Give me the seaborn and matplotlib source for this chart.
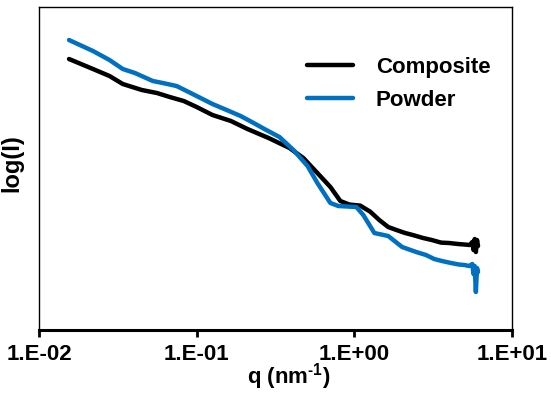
import seaborn as sns
import matplotlib.pyplot as plt
import pandas as pd
import numpy as np

# SAXS curves (q in nm^-1, log(I) in arbitrary units)
q_composite = [0.0155, 0.0220, 0.0280, 0.0340, 0.0449, 0.0560, 0.0675, 0.0828, 0.100,
               0.126, 0.165, 0.210, 0.286, 0.388, 0.475, 0.583, 0.705, 0.815, 0.929,
               1.09, 1.26, 1.44, 1.64, 1.85, 2.10, 2.35, 2.73, 3.10, 3.55, 4.00,
               4.55, 5.00, 5.40, 5.60, 5.70, 5.80, 5.90, 6.00, 6.09]
logI_composite = [2.71, 2.61, 2.54, 2.46, 2.40, 2.37, 2.33, 2.29, 2.23,
                  2.15, 2.09, 2.01, 1.92, 1.82, 1.72, 1.57, 1.43, 1.29, 1.255,
                  1.244, 1.184, 1.10, 1.03, 1.00, 0.97, 0.95, 0.92, 0.90, 0.874, 0.87,
                  0.86, 0.855, 0.85, 0.88, 0.80, 0.91, 0.78, 0.90, 0.84]

q_powder = [0.0155, 0.0220, 0.0280, 0.0340, 0.0406, 0.0527, 0.0610, 0.0746, 0.0916,
            0.126, 0.155, 0.190, 0.230, 0.269, 0.335, 0.411, 0.505, 0.583, 0.705,
            0.792, 1.03, 1.14, 1.34, 1.64, 2.01, 2.47, 2.85, 3.21, 3.60, 4.11,
            4.60, 5.00, 5.35, 5.60, 5.70, 5.80, 5.90, 6.00, 6.09]
logI_powder = [2.90, 2.79, 2.70, 2.61, 2.57, 2.49, 2.47, 2.44, 2.37,
               2.26, 2.20, 2.14, 2.07, 2.01, 1.93, 1.80, 1.64, 1.47, 1.27,
               1.24, 1.23, 1.15, 0.97, 0.94, 0.83, 0.78, 0.75, 0.71, 0.69, 0.67,
               0.655, 0.65, 0.64, 0.66, 0.56, 0.64, 0.38, 0.62, 0.58]

xticks = [0.01, 0.1, 1, 10]
xtick_labels = ['1.E-02', '1.E-01', '1.E+00', '1.E+01']

df = pd.concat([
    pd.DataFrame({'q': q_composite, 'logI': logI_composite, 'sample': 'Composite'}),
    pd.DataFrame({'q': q_powder, 'logI': logI_powder, 'sample': 'Powder'}),
], ignore_index=True)

sns.set_theme(style="white")
plt.rcParams['font.family'] = ['Liberation Sans', 'DejaVu Sans']
plt.rcParams['font.weight'] = 'bold'
plt.rcParams['text.color'] = 'black'
plt.rcParams['axes.labelcolor'] = 'black'
plt.rcParams['xtick.color'] = 'black'
plt.rcParams['mathtext.fontset'] = 'custom'
plt.rcParams['mathtext.bf'] = 'Liberation Sans:bold'
plt.rcParams['mathtext.rm'] = 'Liberation Sans:bold'
plt.rcParams['mathtext.default'] = 'bf'

fig = plt.figure(figsize=(5.51, 3.94), dpi=100)
ax = fig.add_axes([0.0708, 0.1624, 0.8584, 0.8198])

sns.lineplot(data=df, x='q', y='logI', hue='sample',
             palette={'Composite': 'black', 'Powder': '#0070C0'},
             linewidth=3.2, estimator=None, sort=True, ax=ax)

ax.set_xscale('log')
ax.set_xlim(0.01, 10)
ax.set_ylim(0, 3.23)
ax.set_xticks(xticks)
ax.set_xticklabels(xtick_labels, fontsize=16, fontweight='bold', color='black')
ax.minorticks_off()
ax.set_yticks([])
ax.tick_params(axis='x', direction='out', length=5, width=2, pad=5, color='black', bottom=True)

for side in ['left', 'right', 'top']:
    ax.spines[side].set_linewidth(1)
    ax.spines[side].set_color('black')
ax.spines['bottom'].set_linewidth(2.2)
ax.spines['bottom'].set_color('black')

ax.set_xlabel(r'q (nm$^{\text{-1}}$)', fontsize=16, fontweight='bold', color='black')
ax.set_ylabel('log(I)', fontsize=17, fontweight='bold', color='black')
ax.xaxis.set_label_coords(0.527, -0.097)
ax.yaxis.set_label_coords(-0.034, 0.517)

handles, labels = ax.get_legend_handles_labels()
ax.legend(handles, labels, loc='upper left', bbox_to_anchor=(0.5675, 0.845),
          frameon=False, handlelength=2.07, handletextpad=1.0,
          borderpad=0, borderaxespad=0, labelspacing=0.545,
          prop={'weight': 'bold', 'size': 16})

plt.savefig('out.png', dpi=100)
